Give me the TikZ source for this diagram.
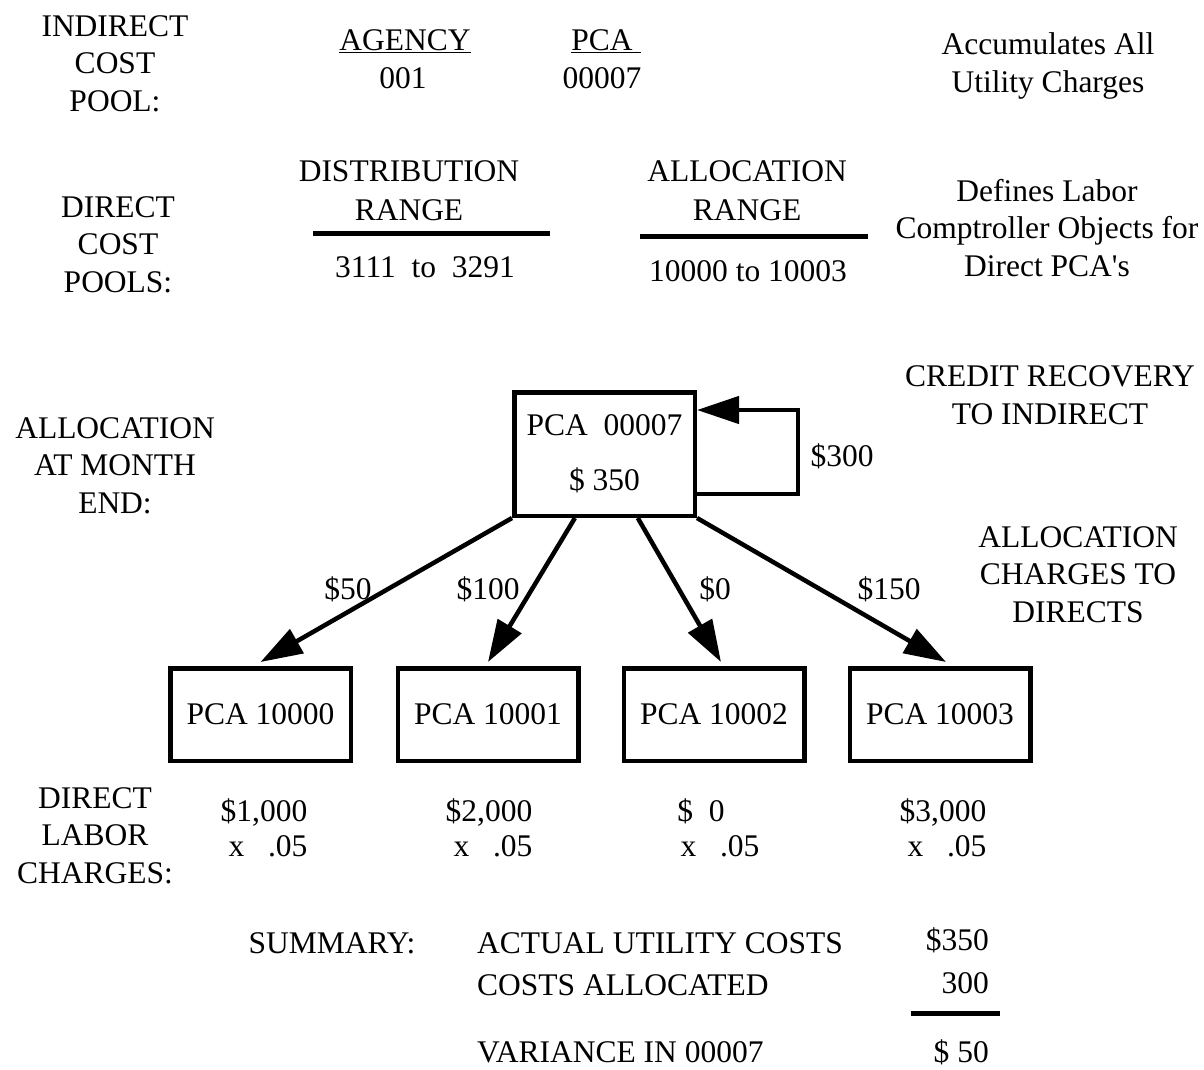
\documentclass[tikz,border=0pt]{standalone}
\usepackage{fontspec}
\setmainfont{Liberation Serif}[Ligatures=TeXOff]
\usetikzlibrary{arrows.meta,calc}
\begin{document}
\begin{tikzpicture}[x=1pt,y=-1pt,
  every node/.style={font=\fontsize{31.5}{37.5}\selectfont, inner sep=0pt},
  txt/.style={align=center, anchor=base},
  pcabox/.style={draw, line width=4.5pt, minimum width=180.5pt, minimum height=92.5pt, align=center},
  flow/.style={line width=4.5pt, line join=miter, -{Triangle[length=42pt,width=27pt]}},
  rangeline/.style={line width=5pt}]
\useasboundingbox (0,0) rectangle (1204,1069);

% indirect cost pool (multi-line nodes are placed by the baseline of their last line)
\node[txt] (ipool) at (115,111) {INDIRECT\\COST\\POOL:};
\node[txt] (agency) at (405,50) {\underline{AGENCY}};
\node[txt] (agencyno) at (403,88) {001};
\node[txt] (pcahead) at (606,50) {\underline{PCA\ }};
\node[txt] (pcano) at (602,88) {00007};
\node[txt] (accum) at (1048,92) {Accumulates All\\Utility Charges};

% direct cost pools
\node[txt] (dpool) at (118,292) {DIRECT\\COST\\POOLS:};
\node[txt] (distr) at (409,220) {DISTRIBUTION\\[1.5pt]RANGE};
\draw[rangeline] (313,233) -- (550,233);
\node[txt] (distrval) at (425,277) {3111\ \ to\ \ 3291};
\node[txt] (alloc) at (747,220) {ALLOCATION\\[1.5pt]RANGE};
\draw[rangeline] (640,236) -- (868,236);
\node[txt] (allocval) at (748,281) {10000 to 10003};
\node[txt] (defines) at (1047,276) {Defines Labor\\Comptroller Objects for\\Direct PCA's};

% allocation at month end
\node[txt] (allocme) at (115,513) {ALLOCATION\\AT MONTH\\END:};
\node[pcabox, minimum height=123.5pt] (top) at (604.5,454) {PCA\ \ 00007\hspace{8pt}\\[17.5pt]\$ 350};
\node[txt] (credit) at (1050,424) {CREDIT RECOVERY\\TO INDIRECT};
\coordinate (fbb) at (798,494);
\coordinate (fbt) at (798,410);
\draw[flow] (top.east |- fbb) -- (fbb) -- (fbt) -- (top.east |- fbt);
\node[txt] (recov) at (842,466) {\$300};
\node[txt] (allocdir) at (1078,622) {ALLOCATION\\CHARGES TO\\DIRECTS};

% direct PCAs
\node[pcabox] (p0) at (260.5,714.5) {PCA 10000};
\node[pcabox] (p1) at (488,714.5) {PCA 10001};
\node[pcabox] (p2) at (714,714.5) {PCA 10002};
\node[pcabox] (p3) at (940,714.5) {PCA 10003};

\draw[flow] (top.south west) -- ([yshift=4pt]p0.north);
\draw[flow] ($(top.south west)!0.34!(top.south east)$) -- ([yshift=4pt]p1.north);
\draw[flow] ($(top.south west)!0.68!(top.south east)$) -- ([xshift=7pt,yshift=4pt]p2.north);
\draw[flow] (top.south east) -- ([xshift=6pt,yshift=4pt]p3.north);

\node[txt] (l50) at (348,599) {\$50};
\node[txt] (l100) at (488,599) {\$100};
\node[txt] (l0) at (715,599) {\$0};
\node[txt] (l150) at (889,599) {\$150};

% direct labor charges
\node[txt] (dlabor) at (95,883) {DIRECT\\LABOR\\CHARGES:};
\node[txt] (c0) at (264,821) {\$1,000};
\node[txt] (r0) at (268,856) {x\ \ \ .05};
\node[txt] (c1) at (489,821) {\$2,000};
\node[txt] (r1) at (493,856) {x\ \ \ .05};
\node[txt] (c2) at (701,821) {\$\ \ 0};
\node[txt] (r2) at (720,856) {x\ \ \ .05};
\node[txt] (c3) at (943,821) {\$3,000};
\node[txt] (r3) at (947,856) {x\ \ \ .05};

% summary
\node[anchor=base] (summary) at (332,953) {SUMMARY:};
\node[anchor=base west] (actual) at (477,953) {ACTUAL UTILITY COSTS};
\node[anchor=base west] (allocated) at (477,995) {COSTS ALLOCATED};
\node[anchor=base east] (v350) at (989,950) {\$350};
\node[anchor=base east] (v300) at (989,993) {300};
\draw[rangeline] (911,1013) -- (1000,1013);
\node[anchor=base west] (variance) at (477,1062) {VARIANCE IN 00007};
\node[anchor=base east] (v50) at (989,1062) {\$ 50};
\end{tikzpicture}
\end{document}
